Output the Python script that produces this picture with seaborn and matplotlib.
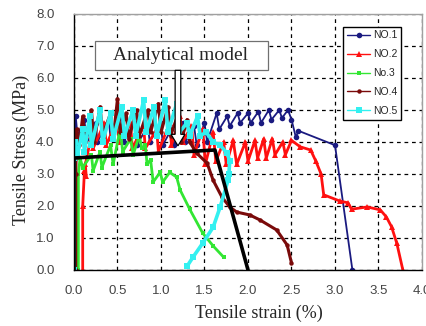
import numpy as np
import pandas as pd
import seaborn as sns
import matplotlib.pyplot as plt
from matplotlib.patches import Rectangle, FancyArrow

# ----------------------
# Data (strain %, stress MPa)
# ----------------------
x_no1 = [0.0, 0.01, 0.02, 0.04, 0.12, 0.14, 0.25, 0.27, 0.4, 0.42,
         0.55, 0.57, 0.7, 0.72, 0.85, 0.87, 1.0, 1.02, 1.12, 1.15,
         1.25, 1.28, 1.38, 1.41, 1.5, 1.53, 1.64, 1.67, 1.76, 1.79,
         1.88, 1.91, 2.0, 2.03, 2.12, 2.15, 2.24, 2.27, 2.36, 2.39,
         2.46, 2.5, 2.55, 2.58, 3.0, 3.2]
y_no1 = [0.0, 2.5, 4.8, 4.2, 4.7, 4.1, 4.6, 4.0, 4.7, 4.1,
         4.8, 4.0, 4.6, 3.9, 4.5, 4.0, 4.6, 3.9, 4.4, 3.9,
         4.6, 4.0, 4.5, 3.9, 4.6, 4.0, 4.9, 4.4, 4.8, 4.5,
         4.9, 4.6, 4.9, 4.6, 4.95, 4.6, 5.0, 4.7, 5.0, 4.75,
         5.0, 4.7, 4.15, 4.35, 3.9, 0.0]

x_no2 = [0.1, 0.1, 0.12, 0.14, 0.13, 0.2, 0.22, 0.35, 0.37, 0.5,
         0.52, 0.65, 0.67, 0.8, 0.82, 0.95, 0.97, 1.1, 1.12, 1.22,
         1.25, 1.35, 1.38, 1.48, 1.51, 1.6, 1.63, 1.72, 1.75, 1.83,
         1.87, 1.97, 2.0, 2.08, 2.11, 2.18, 2.21, 2.28, 2.31, 2.4,
         2.43, 2.5, 2.6, 2.72, 2.78, 2.84, 2.87, 3.06, 3.15, 3.19,
         3.37, 3.52, 3.59, 3.65, 3.71, 3.78]
y_no2 = [0.0, 2.0, 3.1, 2.95, 3.3, 4.2, 3.8, 4.6, 3.9, 4.7,
         4.0, 4.6, 3.8, 4.5, 3.8, 4.4, 3.7, 4.6, 3.9, 4.8,
         4.0, 4.5, 3.6, 4.4, 3.3, 4.3, 3.4, 4.0, 3.3, 4.05,
         3.3, 4.0, 3.4, 4.05, 3.5, 4.1, 3.5, 4.1, 3.6, 4.0,
         3.6, 4.05, 3.85, 3.75, 3.4, 3.0, 2.35, 2.15, 2.1, 1.9,
         1.97, 1.88, 1.66, 1.35, 0.84, 0.0]

x_no3 = [0.05, 0.05, 0.07, 0.1, 0.2, 0.22, 0.3, 0.32, 0.42, 0.45,
         0.53, 0.56, 0.65, 0.68, 0.75, 0.78, 0.82, 0.84, 0.88, 0.91,
         0.99, 1.02, 1.1, 1.18, 1.22, 1.33, 1.48, 1.6, 1.72]
y_no3 = [0.0, 3.0, 3.5, 3.2, 3.6, 3.1, 3.7, 3.2, 3.9, 3.3,
         4.4, 3.7, 4.1, 3.6, 4.2, 3.8, 3.9, 3.3, 3.45, 2.75,
         3.05, 2.75, 3.05, 2.9, 2.5, 1.9, 1.15, 0.75, 0.4]

x_no4 = [0.02, 0.02, 0.03, 0.06, 0.1, 0.13, 0.2, 0.23, 0.3, 0.33,
         0.42, 0.45, 0.5, 0.53, 0.6, 0.63, 0.72, 0.75, 0.85, 0.88,
         0.97, 1.0, 1.08, 1.11, 1.2, 1.23, 1.3, 1.33, 1.41, 1.53,
         1.6, 1.7, 1.79, 1.87, 2.02, 2.14, 2.33, 2.45, 2.5]
y_no4 = [0.0, 3.0, 4.4, 3.9, 4.8, 4.0, 5.0, 4.0, 5.1, 4.2,
         4.9, 4.1, 5.35, 4.3, 4.9, 4.1, 5.0, 4.2, 5.0, 4.3,
         5.2, 4.3, 5.1, 4.2, 4.9, 4.0, 4.7, 4.0, 3.65, 3.34,
         2.8, 2.28, 1.97, 1.81, 1.72, 1.56, 1.25, 0.78, 0.22]

x_no5 = [0.0, 0.0, 0.01, 0.04, 0.1, 0.12, 0.18, 0.2, 0.3, 0.33,
         0.42, 0.45, 0.55, 0.58, 0.68, 0.71, 0.8, 0.83, 0.92, 0.95,
         1.05, 1.08, 1.18, 1.21, 1.3, 1.33, 1.42, 1.45, 1.52, 1.6,
         1.68, 1.76, 1.79, 1.78, 1.77, 1.68, 1.6, 1.48, 1.37, 1.3]
y_no5 = [0.0, 3.5, 4.0, 3.6, 4.4, 3.7, 4.8, 3.9, 5.0, 4.0,
         4.9, 4.1, 5.1, 4.2, 5.0, 4.2, 5.3, 4.3, 5.1, 4.2,
         5.3, 4.3, 5.2, 4.3, 4.6, 4.2, 4.8, 4.2, 4.3, 4.0,
         3.9, 3.65, 3.4, 3.0, 2.8, 1.97, 1.34, 0.84, 0.41, 0.12]

# analytical model (trilinear)
x_model = [0.0, 0.0, 1.62, 2.0]
y_model = [0.0, 3.5, 3.75, 0.0]

labels = ["NO.1", "NO.2", "No.3", "NO.4", "NO.5"]
xticks = [0.0, 0.5, 1.0, 1.5, 2.0, 2.5, 3.0, 3.5, 4.0]
yticks = [0.0, 1.0, 2.0, 3.0, 4.0, 5.0, 6.0, 7.0, 8.0]

# ----------------------
# Plot
# ----------------------
sns.set_style("white")
plt.rcParams['font.family'] = ['Liberation Sans', 'DejaVu Sans']

fig = plt.figure(figsize=(4.27, 3.26), dpi=100)
ax = fig.add_axes([74 / 427, 56 / 326, 348 / 427, 256 / 326])

styles = [
    ("#1a1a80", "o", 4.0, 1.3),
    ("#ff1010", "^", 4.5, 2.0),
    ("#33e633", "s", 3.0, 2.0),
    ("#7a0a0a", "o", 3.2, 2.2),
    ("#33f0f0", "s", 4.0, 2.6),
]
series = [(x_no1, y_no1), (x_no2, y_no2), (x_no3, y_no3), (x_no4, y_no4), (x_no5, y_no5)]

for (xs, ys), lab, (col, mk, ms, lw) in zip(series, labels, styles):
    sns.lineplot(x=xs, y=ys, ax=ax, sort=False, estimator=None, color=col,
                 marker=mk, markersize=ms, markeredgewidth=0, lw=lw, label=lab)

sns.lineplot(x=x_model, y=y_model, ax=ax, sort=False, estimator=None,
             color="black", lw=2.6, zorder=5)

ax.set_xlim(0, 4.0)
ax.set_ylim(0, 8.0)
ax.set_xticks(xticks)
ax.set_yticks(yticks)
ax.set_xticklabels([f"{t:.1f}" for t in xticks])
ax.set_yticklabels([f"{t:.1f}" for t in yticks])
ax.tick_params(axis="both", length=0, labelsize=9.5, labelcolor="#444444")
ax.tick_params(axis="y", pad=14)
ax.tick_params(axis="x", pad=11)
ax.grid(True, color="black", ls=(0, (3, 3)), lw=0.9)

for s in ["top", "right"]:
    ax.spines[s].set_color("#a0a0a0")
for s in ["left", "bottom"]:
    ax.spines[s].set_color("black")
for s in ax.spines.values():
    s.set_linewidth(1.0)
    s.set_visible(True)

ax.set_xlabel("Tensile strain (%)", family="Liberation Serif", fontsize=13)
ax.set_ylabel("Tensile Stress (MPa)", family="Liberation Serif", fontsize=13)
ax.xaxis.set_label_coords(0.53, -0.135)
ax.yaxis.set_label_coords(-0.125, 0.47)

# model callout box + hollow arrow pointing at the model line
ax.add_patch(Rectangle((0.06, 0.781), 0.497, 0.114, transform=ax.transAxes,
                       facecolor="white", edgecolor="#707070", lw=0.9, zorder=6))
ax.text(0.305, 0.838, "Analytical model", transform=ax.transAxes, ha="center", va="center",
        family="Liberation Serif", fontsize=14, zorder=7)
ax.add_patch(FancyArrow(1.195, 6.24, 0, -2.36, width=0.065, head_width=0.16,
                        head_length=0.36, length_includes_head=True,
                        facecolor="white", edgecolor="black", lw=0.9, zorder=8))

leg = ax.legend(loc="upper right", bbox_to_anchor=(0.94, 0.95), fontsize=7.5,
                frameon=True, fancybox=False, edgecolor="black", framealpha=1,
                handlelength=2.2, handletextpad=0.3, labelspacing=0.85,
                borderpad=0.35, borderaxespad=0)
leg.get_frame().set_linewidth(1.0)
for h in leg.get_lines():
    h.set_linewidth(1.0)

plt.savefig("out.png", dpi=100)
